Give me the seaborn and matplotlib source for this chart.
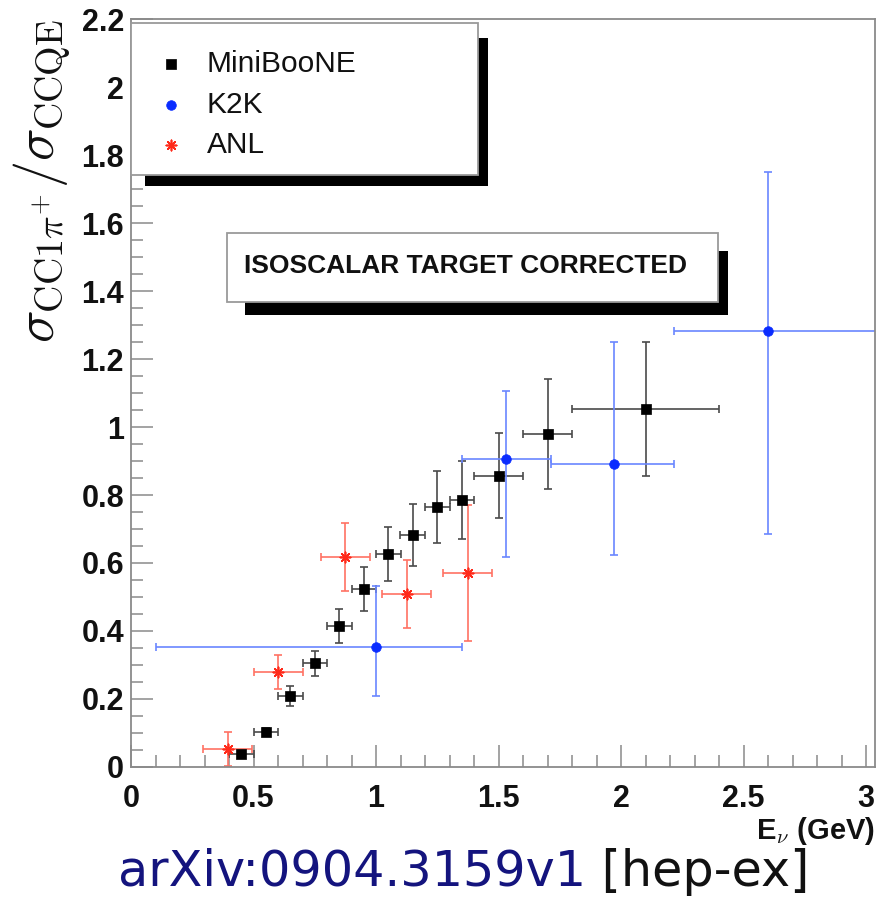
import numpy as np
import pandas as pd
import matplotlib
matplotlib.use("Agg")
import matplotlib.pyplot as plt
import seaborn as sns
from matplotlib.patches import Rectangle
from matplotlib.ticker import MultipleLocator, FixedLocator

# ---------------- data ----------------
mb_x = [0.45, 0.55, 0.65, 0.75, 0.85, 0.95, 1.05, 1.15, 1.25, 1.35, 1.5, 1.7, 2.1]
mb_y = [0.038, 0.104, 0.209, 0.305, 0.415, 0.524, 0.626, 0.682, 0.765, 0.786, 0.856, 0.980, 1.052]
mb_xerr = [0.05, 0.05, 0.05, 0.05, 0.05, 0.05, 0.05, 0.05, 0.05, 0.05, 0.1, 0.1, 0.3]
mb_yerr = [0.008, 0.012, 0.029, 0.037, 0.051, 0.065, 0.079, 0.091, 0.106, 0.115, 0.125, 0.162, 0.197]

k2k_x = [1.0, 1.53, 1.97, 2.6]
k2k_y = [0.354, 0.905, 0.891, 1.283]
k2k_xlo = [0.1, 1.35, 1.715, 2.215]
k2k_xhi = [1.35, 1.715, 2.215, 3.2]
k2k_ylo = [0.21, 0.619, 0.624, 0.684]
k2k_yhi = [0.532, 1.106, 1.249, 1.751]

anl_x = [0.395, 0.6, 0.875, 1.125, 1.375]
anl_y = [0.053, 0.28, 0.617, 0.508, 0.57]
anl_xerr = [0.1, 0.1, 0.1, 0.1, 0.1]
anl_yerr = [0.05, 0.05, 0.1, 0.1, 0.2]

series_labels = ["MiniBooNE", "K2K", "ANL"]
x_ticks = [0, 0.5, 1, 1.5, 2, 2.5, 3]
x_ticklabels = ["0", "0.5", "1", "1.5", "2", "2.5", "3"]
y_ticks = [0, 0.2, 0.4, 0.6, 0.8, 1.0, 1.2, 1.4, 1.6, 1.8, 2.0, 2.2]
y_ticklabels = ["0", "0.2", "0.4", "0.6", "0.8", "1", "1.2", "1.4", "1.6", "1.8", "2", "2.2"]
box_text = "ISOSCALAR TARGET CORRECTED"
footer_main = "arXiv:0904.3159v1"
footer_tail = " [hep-ex]"

# ---------------- style ----------------
sns.set_theme(style="white")
plt.rcParams["font.family"] = ["Liberation Sans", "DejaVu Sans"]
plt.rcParams["mathtext.fontset"] = "cm"

W, H = 877, 898
fig = plt.figure(figsize=(W / 100, H / 100), dpi=100)
fig.patch.set_facecolor("white")

def fx(px):
    return px / W

def fy(py):
    return 1 - py / H

ax_l, ax_r, ax_t, ax_b = 131, 875, 19, 767
ax = fig.add_axes([fx(ax_l), fy(ax_b), (ax_r - ax_l) / W, (ax_b - ax_t) / H])
ax.set_facecolor("white")

axis_gray = "#8a8a8a"
mb_col, mb_bar = "#000000", "#4a4a4a"
k2k_col, k2k_bar = "#0a2cff", "#6a86ff"
anl_col, anl_bar = "#ff2a1a", "#ff7263"

mb_df = pd.DataFrame({"E": mb_x, "r": mb_y})
k2k_df = pd.DataFrame({"E": k2k_x, "r": k2k_y})
anl_df = pd.DataFrame({"E": anl_x, "r": anl_y})

# error bars
ax.errorbar(mb_x, mb_y, xerr=mb_xerr, yerr=mb_yerr, fmt="none",
            ecolor=mb_bar, elinewidth=1.2, capsize=3, capthick=1.2, zorder=2)
k2k_xerr = [np.array(k2k_x) - np.array(k2k_xlo), np.array(k2k_xhi) - np.array(k2k_x)]
k2k_yerr = [np.array(k2k_y) - np.array(k2k_ylo), np.array(k2k_yhi) - np.array(k2k_y)]
ax.errorbar(k2k_x, k2k_y, xerr=k2k_xerr, yerr=k2k_yerr, fmt="none",
            ecolor=k2k_bar, elinewidth=1.2, capsize=3, capthick=1.2, zorder=2)
ax.errorbar(anl_x, anl_y, xerr=anl_xerr, yerr=anl_yerr, fmt="none",
            ecolor=anl_bar, elinewidth=1.2, capsize=3, capthick=1.2, zorder=2)

# markers
sns.scatterplot(data=mb_df, x="E", y="r", marker="s", s=60, color=mb_col,
                edgecolor=mb_col, linewidth=0.5, label=series_labels[0], ax=ax, zorder=3)
sns.scatterplot(data=k2k_df, x="E", y="r", marker="o", s=48, color=k2k_col,
                edgecolor=k2k_col, linewidth=0.5, label=series_labels[1], ax=ax, zorder=3)
sns.scatterplot(data=anl_df, x="E", y="r", marker=(8, 2, 0), s=55, color=anl_col,
                edgecolor=anl_col, linewidth=1.2, label=series_labels[2], ax=ax, zorder=3)

handles, labels = ax.get_legend_handles_labels()
if ax.get_legend() is not None:
    ax.get_legend().remove()

ax.set_xlim(0, (ax_r - ax_l) / 245.0)
ax.set_ylim(0, 2.2)

ax.xaxis.set_major_locator(FixedLocator(x_ticks))
ax.set_xticklabels(x_ticklabels)
ax.xaxis.set_minor_locator(MultipleLocator(0.1))
ax.yaxis.set_major_locator(FixedLocator(y_ticks))
ax.set_yticklabels(y_ticklabels)
ax.yaxis.set_minor_locator(MultipleLocator(0.05))

ax.tick_params(axis="both", which="major", direction="in", length=16, width=1.1,
               color=axis_gray, labelsize=22, labelcolor="#111111")
ax.tick_params(axis="both", which="minor", direction="in", length=8.5, width=1.1,
               color=axis_gray)
ax.tick_params(axis="x", which="both", top=False, bottom=True, pad=12)
ax.tick_params(axis="y", which="both", right=False, left=True, pad=5)
for lab in ax.get_xticklabels() + ax.get_yticklabels():
    lab.set_fontweight("bold")

for sp in ax.spines.values():
    sp.set_color(axis_gray)
    sp.set_linewidth(1.3)
    sp.set_visible(True)

# axis labels
ax.set_xlabel(r"E$_{\nu}$ (GeV)", fontsize=21, fontweight="bold", color="#111111", loc="right")
ax.xaxis.set_label_coords(1.0, -0.064)
ax.set_ylabel(r"$\sigma_{\rm CC1\pi^{+}}/\sigma_{\rm CCQE}$", fontsize=39, color="#111111", loc="top")
ax.yaxis.set_label_coords(-0.078, 1.0)

# legend box with shadow
fig.add_artist(Rectangle((fx(145), fy(186)), (488 - 145) / W, (186 - 38) / H,
                         transform=fig.transFigure, facecolor="black", edgecolor="none", zorder=2))
fig.add_artist(Rectangle((fx(131), fy(175)), (478 - 131) / W, (175 - 23) / H,
                         transform=fig.transFigure, facecolor="white", edgecolor="#9a9a9a",
                         linewidth=1.3, zorder=3))
leg = fig.legend(handles, labels, loc="upper left", bbox_to_anchor=(fx(157), fy(50)),
                 frameon=False, fontsize=21.5, handlelength=0.95, handletextpad=0.72,
                 labelspacing=0.42, borderpad=0, borderaxespad=0, markerscale=1.0)
leg.set_zorder(5)
for t in leg.get_texts():
    t.set_color("#111111")

# annotation box with shadow
fig.add_artist(Rectangle((fx(245), fy(315)), (728 - 245) / W, (315 - 251) / H,
                         transform=fig.transFigure, facecolor="black", edgecolor="none", zorder=2))
fig.add_artist(Rectangle((fx(227), fy(302)), (718 - 227) / W, (302 - 233) / H,
                         transform=fig.transFigure, facecolor="white", edgecolor="#9a9a9a",
                         linewidth=1.3, zorder=3))
fig.text(fx(466), fy(266), box_text, fontsize=19, fontweight="bold", color="#111111",
         ha="center", va="center", zorder=5)

# footer
t1 = fig.text(fx(118), fy(886), footer_main, fontsize=35.5, color="#14147e",
              family=["DejaVu Sans"], ha="left", va="baseline")
ax.annotate(footer_tail, xy=(1, 0), xycoords=t1, ha="left", va="bottom",
            fontsize=35.5, color="#111111", family=["DejaVu Sans"], annotation_clip=False)

fig.savefig("out.png", dpi=100, facecolor="white")
